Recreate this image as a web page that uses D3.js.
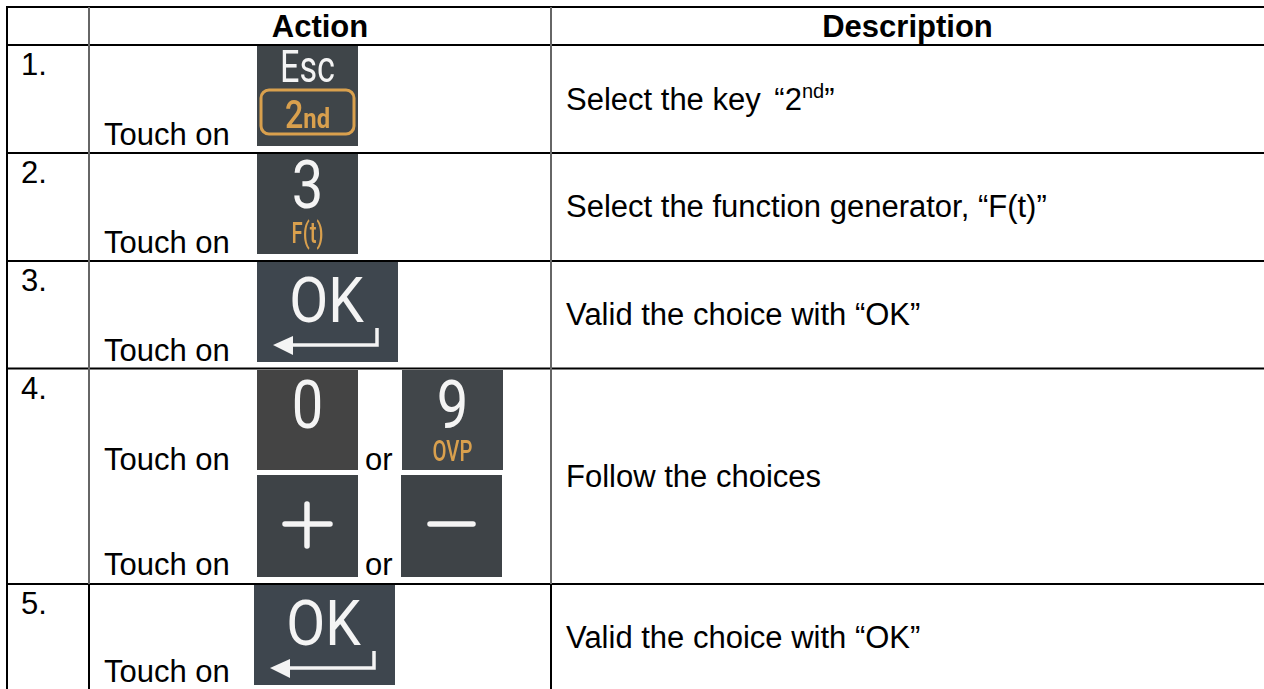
<!DOCTYPE html>
<html>
<head>
<meta charset="utf-8">
<style>
  html, body { margin: 0; padding: 0; background: #fff; overflow: hidden; }
  text { font-family: "Liberation Sans", Arial, sans-serif; fill: #000; }
  .key-text { font-family: Roboto, sans-serif; }
</style>
<script src="https://cdn.jsdelivr.net/npm/d3@7/dist/d3.min.js"></script>
</head>
<body>
<script>
var headers = ['Action', 'Description'];
var rowLabels = ['1.', '2.', '3.', '4.', '5.'];
var descriptions = [
  'Select the key',
  'Select the function generator, “F(t)”',
  'Valid the choice with “OK”',
  'Follow the choices',
  'Valid the choice with “OK”'
];
// which keys sit on each line of the action cell
var rowKeys = [
  [['esc']],
  [['three']],
  [['ok']],
  [['zero', 'nine'], ['plus', 'minus']],
  [['ok']]
];
var keyNames = ['esc', 'three', 'ok', 'zero', 'nine', 'plus', 'minus'];
var keyLabels = ['Esc', '3', 'OK', '0', '9', '', ''];
var keySubLabels = ['2nd', 'F(t)', '', '', 'OVP', '', ''];
var actionWord = 'Touch on';
var orWord = 'or';

// layout
var width = 1264, height = 689;
var fontSize = 31;
var colX = [7, 89, 551, 1264];
var rowEdges = [7, 45, 153, 261, 368.5, 584, 689];
var lineColor = '#000', colLineColor = '#666';
var numberBase = [75, 183, 291, 399, 614];
var touchBase = [[145], [253], [361], [470, 575], [682]];
var descBase = [110, 217, 325, 487, 648];
var keyColor = { esc: '#3f4549', three: '#3e4448', ok: '#3e464e', zero: '#444444', nine: '#41464a', plus: '#3e4347', minus: '#3e4347' };
var digitBase = { three: 54, zero: 58, nine: 58 };
// key x/y/w/h per row and line, in the same nesting as rowKeys
var keyBoxes = [
  [[[257, 46, 101, 100]]],
  [[[257, 154, 101, 100]]],
  [[[257, 262, 141, 100]]],
  [[[257, 370, 101, 100], [402, 370, 101, 100]], [[257, 475, 101, 102], [401, 475, 101, 102]]],
  [[[254, 585, 141, 100]]]
];

var svg = d3.select('body').append('svg')
  .attr('width', width)
  .attr('height', height)
  .style('display', 'block');

// user space region, a flat bbox (the minus bar) would otherwise drop the filter
svg.append('defs').append('filter')
  .attr('id', 'soft')
  .attr('filterUnits', 'userSpaceOnUse')
  .attr('x', -10).attr('y', -10)
  .attr('width', 170).attr('height', 130)
  .append('feGaussianBlur')
  .attr('stdDeviation', 0.55);

// grid lines
svg.selectAll('.h-line')
  .data(rowEdges.slice(0, -1))
  .enter().append('line')
  .attr('x1', 6).attr('x2', width)
  .attr('y1', function(d) { return d; })
  .attr('y2', function(d) { return d; })
  .attr('stroke', lineColor)
  .attr('stroke-width', 2);

svg.selectAll('.v-line')
  .data(colX.slice(0, 3))
  .enter().append('line')
  .attr('x1', function(d) { return d; })
  .attr('x2', function(d) { return d; })
  .attr('y1', rowEdges[0])
  .attr('y2', rowEdges[5])
  .attr('stroke', function(d, i) { return i === 0 ? lineColor : colLineColor; })
  .attr('stroke-width', 2);

svg.selectAll('.v-line-last')
  .data(colX.slice(0, 3))
  .enter().append('line')
  .attr('x1', function(d) { return d; })
  .attr('x2', function(d) { return d; })
  .attr('y1', rowEdges[5])
  .attr('y2', height)
  .attr('stroke', lineColor)
  .attr('stroke-width', 2);

// header
svg.selectAll('.header')
  .data(headers)
  .enter().append('text')
  .attr('x', function(d, i) { return (colX[i + 1] + colX[i + 2]) / 2; })
  .attr('y', 36.5)
  .attr('text-anchor', 'middle')
  .attr('font-weight', 'bold')
  .attr('font-size', fontSize)
  .text(function(d) { return d; });

// row numbers
svg.selectAll('.num')
  .data(rowLabels)
  .enter().append('text')
  .attr('x', 21)
  .attr('y', function(d, i) { return numberBase[i]; })
  .attr('font-size', fontSize)
  .text(function(d) { return d; });

// descriptions
var desc = svg.selectAll('.desc')
  .data(descriptions)
  .enter().append('text')
  .attr('x', 566)
  .attr('y', function(d, i) { return descBase[i]; })
  .attr('font-size', fontSize)
  .text(function(d) { return d; });

// first description carries the superscript
var first = desc.filter(function(d, i) { return i === 0; });
first.append('tspan').attr('dx', 5).text(' “2');
first.append('tspan').attr('font-size', 20).attr('dy', -12).text('nd');
first.append('tspan').attr('font-size', 31).attr('dy', 12).text('”');

// touch on / or
rowKeys.forEach(function(lines, r) {
  lines.forEach(function(keys, l) {
    var base = touchBase[r][l];
    svg.append('text')
      .attr('x', 104)
      .attr('y', base)
      .attr('font-size', fontSize)
      .text(actionWord);
    if (keys.length > 1) {
      svg.append('text')
        .attr('x', 365)
        .attr('y', base)
        .attr('font-size', fontSize)
        .text(orWord);
    }
    keys.forEach(function(name, k) {
      drawKey(name, keyBoxes[r][l][k]);
    });
  });
});

function keyText(g, str, x, y, size, fill, stretch, weight) {
  g.append('text')
    .attr('class', 'key-text')
    .attr('transform', 'translate(' + x + ',' + y + ') scale(' + stretch + ',1)')
    .attr('text-anchor', 'middle')
    .attr('font-size', size)
    .attr('font-weight', weight || 400)
    .style('fill', fill)
    .text(str);
}

function drawKey(name, box) {
  var i = keyNames.indexOf(name);
  var label = keyLabels[i], sub = keySubLabels[i];
  var g = svg.append('g').attr('transform', 'translate(' + box[0] + ',' + box[1] + ')');
  var w = box[2];
  g.append('rect')
    .attr('width', w)
    .attr('height', box[3])
    .attr('fill', keyColor[name]);

  var ink = g.append('g').attr('filter', 'url(#soft)');
  var orange = '#d9a04e', white = '#f4f4f4';

  if (name === 'esc') {
    keyText(ink, label, w / 2, 36, 45, white, 0.76);
    ink.append('rect')
      .attr('x', 4).attr('y', 44)
      .attr('width', w - 8).attr('height', 44)
      .attr('rx', 8)
      .attr('fill', 'none')
      .attr('stroke', orange)
      .attr('stroke-width', 3);
    var sec = ink.append('text')
      .attr('class', 'key-text')
      .attr('transform', 'translate(' + (w / 2) + ',82) scale(0.85,1)')
      .attr('text-anchor', 'middle')
      .style('fill', orange);
    sec.append('tspan').attr('font-size', 38).attr('font-weight', 500).text('2');
    sec.append('tspan').attr('font-size', 28).attr('font-weight', 700).text('nd');
  } else if (name === 'ok') {
    keyText(ink, label, w / 2 - 1, 60, 63, white, 0.9);
    ink.append('path')
      .attr('d', 'M120,66V83H32')
      .attr('fill', 'none')
      .attr('stroke', white)
      .attr('stroke-width', 3.5);
    ink.append('path')
      .attr('d', 'M16,83L36,74V93Z')
      .attr('fill', white);
  } else if (name === 'plus' || name === 'minus') {
    ink.append('path')
      .attr('d', name === 'plus' ? 'M28,49H73M50,29V71' : 'M29,49H72')
      .attr('fill', 'none')
      .attr('stroke', white)
      .attr('stroke-width', 5.5)
      .attr('stroke-linecap', 'round');
  } else {
    keyText(ink, label, w / 2, digitBase[name], 66, white, 0.85);
    if (sub) {
      keyText(ink, sub, w / 2, name === 'nine' ? 91 : 89, 29, orange, 0.7, 500);
    }
  }
}
</script>
</body>
</html>
